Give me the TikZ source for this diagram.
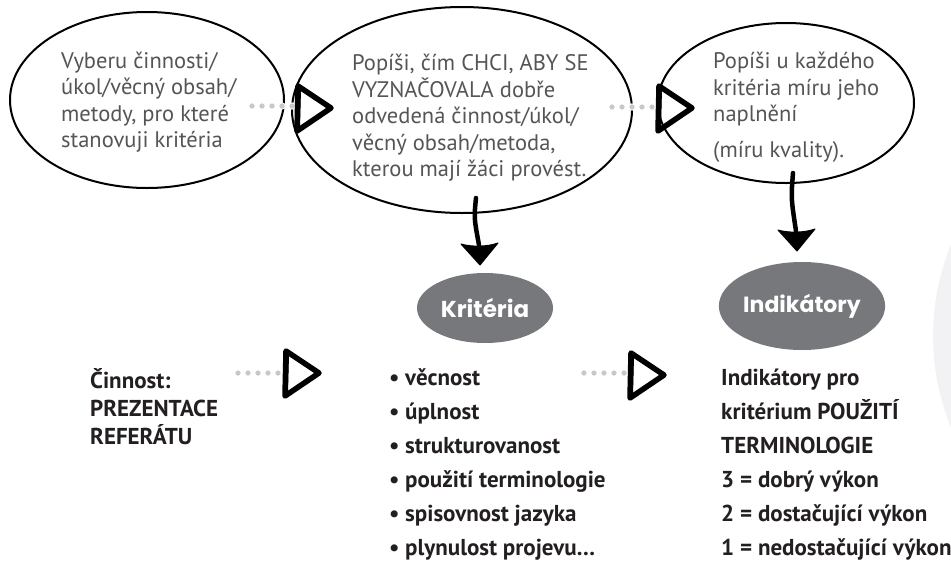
\documentclass[tikz,border=0pt]{standalone}
\usepackage{fontspec}
\setmainfont{PT Sans}
\newfontfamily\badgefont{Poppins}
\usetikzlibrary{shapes.geometric,calc}

\definecolor{inkgray}{HTML}{555557}
\definecolor{ink}{HTML}{231F20}
\definecolor{badgegray}{HTML}{77787B}
\definecolor{dotgray}{HTML}{C8C8CA}
\definecolor{haze}{HTML}{F2F2F4}

\tikzset{
  bubble/.style={ellipse, draw=black, line width=2pt, inner sep=0pt},
  % multi-line texts are anchored at the baseline of their last line
  bubbletext/.style={anchor=base west, align=left, inner sep=0pt, text=inkgray,
    font=\fontsize{22.5}{26.5}\selectfont},
  boldtext/.style={anchor=base west, align=left, inner sep=0pt, text=ink,
    font=\bfseries\fontsize{23}{34}\selectfont},
  badge/.style={ellipse, fill=badgegray, text=white, inner sep=0pt,
    font=\badgefont\bfseries\fontsize{22}{24}\selectfont},
  headstroke/.style={draw=black, line width=5.5pt, line join=round, line cap=round},
  dotmark/.style={fill=dotgray, draw=white, line width=0.8pt},
  openhead/.pic={
    \draw[headstroke] (0,-22) -- (33,0) -- (-1,23) -- cycle;
    \draw[line width=2pt, line cap=round] (2,-19) -- (1,19);
  },
  fallhead/.pic={
    \fill[line join=round, draw=black, line width=1pt]
      (-18,-1) .. controls (-8,2) and (8,2) .. (19,-2) -- (1,20) -- cycle;
  },
}

\newcommand{\dotrow}[2]{%
  \foreach \t in {0,0.25,0.5,0.75,1}
    \fill[dotmark] ($(#1)!\t!(#2)$) circle (3.2);%
}

\begin{document}
\begin{tikzpicture}[x=1pt, y=-1pt]
  \useasboundingbox (0,0) rectangle (951,563);
  \fill[white] (0,0) rectangle (951,563);

  % pale disc at the right margin
  \begin{scope}
    \clip (0,0) rectangle (951,563);
    \fill[haze] (1172,336) circle (239);
  \end{scope}

  % outlined bubbles
  \node[bubble, minimum width=274, minimum height=176] (b1) at (147,100) {};
  \node[bubble, minimum width=340, minimum height=206] (b2) at (462,110) {};
  \node[bubble, minimum width=256, minimum height=160] (b3) at (786,103) {};

  \node[bubbletext] (t1) at (61,147.5)
    {Vyberu činnosti/\\úkol/věcný obsah/\\metody, pro které\\stanovuji kritéria};
  \node[bubbletext] (t2) at (352,176.5)
    {Popíši, čím CHCI, ABY SE\\VYZNAČOVALA dobře\\odvedená činnost/úkol/\\věcný obsah/metoda,\\kterou mají žáci provést.};
  \node[bubbletext] (t3) at (713,157)
    {Popíši u každého\\kritéria míru jeho\\naplnění\\[9pt](míru kvality).};

  % grey badges
  \node[badge, minimum width=136, minimum height=70] (k) at (485,308)
    {\fontsize{23}{24}\selectfont Kritéria};
  \node[badge, minimum width=140, minimum height=88] (ind) at (802,306) {Indikátory};

  % lower text blocks
  \node[boldtext, font=\bfseries\fontsize{23}{28}\selectfont] (act) at (90,444)
    {Činnost:\\PREZENTACE\\REFERÁTU};
  \node[boldtext] (list) at (389,555)
    {\makebox[16pt][l]{•}věcnost\\
     \makebox[16pt][l]{•}úplnost\\
     \makebox[16pt][l]{•}strukturovanost\\
     \makebox[16pt][l]{•}použití terminologie\\
     \makebox[16pt][l]{•}spisovnost jazyka\\
     \makebox[16pt][l]{•}plynulost projevu…};
  \node[boldtext] (scale) at (721,555)
    {Indikátory pro\\kritérium POUŽITÍ\\TERMINOLOGIE\\3 = dobrý výkon\\2 = dostačující výkon\\1 = nedostačující výkon};

  % dotted connectors with open heads
  \coordinate (a1s) at (252,106); \coordinate (a1e) at (292,106); \coordinate (a1h) at (298,108);
  \coordinate (a2s) at (612,107); \coordinate (a2e) at (652,107); \coordinate (a2h) at (659,108);
  \coordinate (a3s) at (238,373); \coordinate (a3e) at (278,373); \coordinate (a3h) at (286,373);
  \coordinate (a4s) at (584,373); \coordinate (a4e) at (624,373); \coordinate (a4h) at (631,375);
  \dotrow{a1s}{a1e} \pic at (a1h) {openhead};
  \dotrow{a2s}{a2e} \pic at (a2h) {openhead};
  \dotrow{a3s}{a3e} \pic at (a3h) {openhead};
  \dotrow{a4s}{a4e} \pic at (a4h) {openhead};

  % downward arrows into the badges
  \coordinate (v1s) at (476,198); \coordinate (v1e) at (479,245);
  \coordinate (v2s) at (793,173); \coordinate (v2e) at (796,231);
  \draw[line width=4.5pt, line cap=round] (v1s) .. controls ($(v1s)+(-2,20)$) .. (v1e);
  \pic at (v1e) {fallhead};
  \draw[line width=4.5pt, line cap=round] (v2s) .. controls ($(v2s)+(-2,25)$) .. (v2e);
  \pic at (v2e) {fallhead};
\end{tikzpicture}
\end{document}
